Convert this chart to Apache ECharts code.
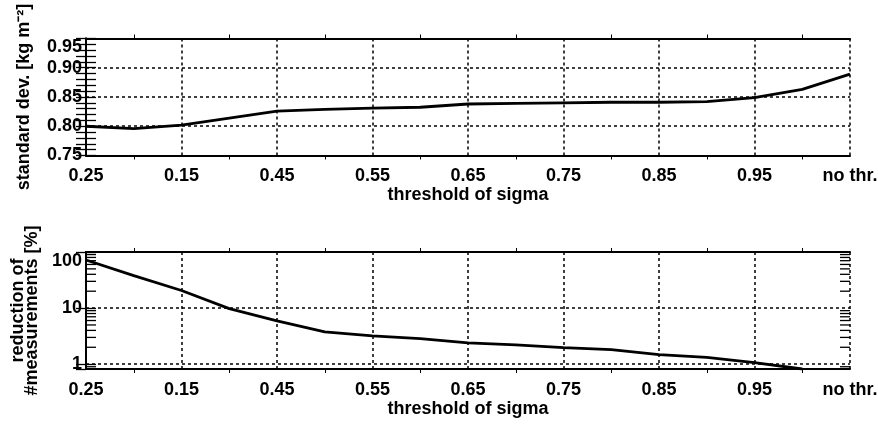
<!DOCTYPE html>
<html>
<head>
<meta charset="utf-8">
<script src="https://cdn.jsdelivr.net/npm/echarts@6/dist/echarts.min.js"></script>
<style>
  html, body { margin: 0; padding: 0; background: #fff; }
  #chart { width: 878px; height: 425px; }
</style>
</head>
<body>
<div id="chart"></div>
<script>
// x positions: one tick label per whole step, data every half step
const xLabels = ['0.25', '0.15', '0.45', '0.55', '0.65', '0.75', '0.85', '0.95', 'no thr.']
const xPositions = [0, 0.5, 1, 1.5, 2, 2.5, 3, 3.5, 4, 4.5, 5, 5.5, 6, 6.5, 7, 7.5, 8]

// standard deviation [kg m-2]
const stdDev = [0.800, 0.796, 0.802, 0.814, 0.826, 0.829, 0.831, 0.8325, 0.838, 0.839, 0.840, 0.841, 0.841, 0.842, 0.849, 0.863, 0.889]

// reduction of #measurements [%] (no threshold -> 0, not drawn on log axis)
const reduction = [72, 38, 20.6, 9.8, 5.9, 3.75, 3.2, 2.86, 2.4, 2.2, 1.98, 1.82, 1.48, 1.32, 1.07, 0.82, null]

// log axis minor tick values
const logMinorTicks = [0.9, 2, 3, 4, 5, 6, 7, 8, 9, 20, 30, 40, 50, 60, 70, 80, 90]

const FONT = '"Liberation Sans", Arial, sans-serif'
const black = '#000'
const text = { color: black, fontSize: 18, fontFamily: FONT, fontWeight: 'bold' }

const chart = echarts.init(document.getElementById('chart'))

const gridLine = { show: true, lineStyle: { color: black, type: [3, 3], width: 1.5 } }

function bottomX(gridIndex, name) {
  return {
    type: 'value', gridIndex, min: 0, max: 8, interval: 1, position: 'bottom',
    name, nameLocation: 'middle', nameGap: 31,
    nameTextStyle: { ...text },
    axisLine: { show: true, onZero: false, lineStyle: { color: black, width: 2 } },
    axisTick: { show: false },
    minorTick: { show: true, splitNumber: 2, length: 4, lineStyle: { color: black, width: 1 } },
    axisLabel: { ...text, margin: 12, formatter: v => xLabels[Math.round(v)] },
    splitLine: gridLine
  }
}

function topX(gridIndex) {
  return {
    type: 'value', gridIndex, min: 0, max: 8, interval: 1, position: 'top',
    axisLine: { show: true, onZero: false, lineStyle: { color: black, width: 2 } },
    axisTick: { show: false },
    minorTick: { show: true, splitNumber: 2, length: 4, lineStyle: { color: black, width: 1 } },
    axisLabel: { show: false },
    splitLine: { show: false }
  }
}

const option = {
  animation: false,
  backgroundColor: '#fff',
  grid: [
    { left: 86, right: 28, top: 38.5, height: 117, outerBoundsMode: 'none' },
    { left: 86, right: 28, top: 252, height: 117, outerBoundsMode: 'none' }
  ],
  xAxis: [
    bottomX(0, 'threshold of sigma'),
    topX(0),
    bottomX(1, 'threshold of sigma'),
    topX(1)
  ],
  yAxis: [
    {
      type: 'value', gridIndex: 0, min: 0.75, max: 0.95, interval: 0.05, position: 'left',
      name: 'standard dev. [kg m⁻²]', nameLocation: 'middle', nameGap: 53,
      nameTextStyle: { ...text },
      axisLine: { show: true, lineStyle: { color: black, width: 2 } },
      axisTick: { show: true, inside: true, length: 10, lineStyle: { color: black, width: 1.3 } },
      minorTick: { show: true, splitNumber: 5, length: 10, lineStyle: { color: black, width: 1.3 } },
      axisLabel: {
        ...text, margin: 4, verticalAlignMaxLabel: 'top',
        formatter: v => v.toFixed(2)
      },
      splitLine: gridLine
    },
    {
      type: 'value', gridIndex: 0, min: 0.75, max: 0.95, interval: 0.05, position: 'right',
      axisLine: { show: true, lineStyle: { color: black, width: 2 } },
      axisTick: { show: true, inside: true, length: 10, lineStyle: { color: black, width: 1.3 } },
      minorTick: { show: true, splitNumber: 5, length: 10, lineStyle: { color: black, width: 1.3 } },
      axisLabel: { show: false },
      splitLine: { show: false }
    },
    {
      type: 'log', gridIndex: 1, min: 0.82, max: 100, logBase: 10, position: 'left',
      name: 'reduction of\n#measurements [%]', nameLocation: 'middle', nameGap: 47,
      nameTextStyle: { ...text, lineHeight: 14 },
      axisLine: { show: true, lineStyle: { color: black, width: 2 } },
      axisTick: { show: true, inside: true, length: 10, lineStyle: { color: black, width: 1.3 } },
      axisLabel: {
        ...text, margin: 4, showMinLabel: false, verticalAlignMaxLabel: 'top',
        formatter: v => ([1, 10, 100].indexOf(Math.round(v * 1000) / 1000) >= 0 ? String(Math.round(v)) : '')
      },
      splitLine: gridLine
    },
    {
      type: 'log', gridIndex: 1, min: 0.82, max: 100, logBase: 10, position: 'right',
      axisLine: { show: true, lineStyle: { color: black, width: 2 } },
      axisTick: { show: true, inside: true, length: 10, lineStyle: { color: black, width: 1.3 } },
      axisLabel: { show: false },
      splitLine: { show: false }
    }
  ],
  series: [
    {
      type: 'line', xAxisIndex: 0, yAxisIndex: 0,
      data: xPositions.map((x, i) => [x, stdDev[i]]),
      showSymbol: false, lineStyle: { color: black, width: 2.8 }, z: 5
    },
    {
      type: 'line', xAxisIndex: 2, yAxisIndex: 2,
      data: xPositions.map((x, i) => [x, reduction[i]]),
      showSymbol: false, lineStyle: { color: black, width: 2.8 }, z: 5
    },
    {
      // minor ticks of the log axis, drawn on both sides
      type: 'custom', xAxisIndex: 2, yAxisIndex: 2, silent: true, clip: false,
      data: logMinorTicks.map(v => [0, v]),
      renderItem: (params, api) => {
        const v = api.value(1)
        const l = api.coord([0, v])
        const r = api.coord([8, v])
        const style = { stroke: black, lineWidth: 1.3 }
        return {
          type: 'group',
          children: [
            { type: 'line', shape: { x1: l[0], y1: l[1], x2: l[0] + 10, y2: l[1] }, style },
            { type: 'line', shape: { x1: r[0], y1: r[1], x2: r[0] - 10, y2: r[1] }, style }
          ]
        }
      }
    }
  ]
}

chart.setOption(option)
</script>
</body>
</html>
